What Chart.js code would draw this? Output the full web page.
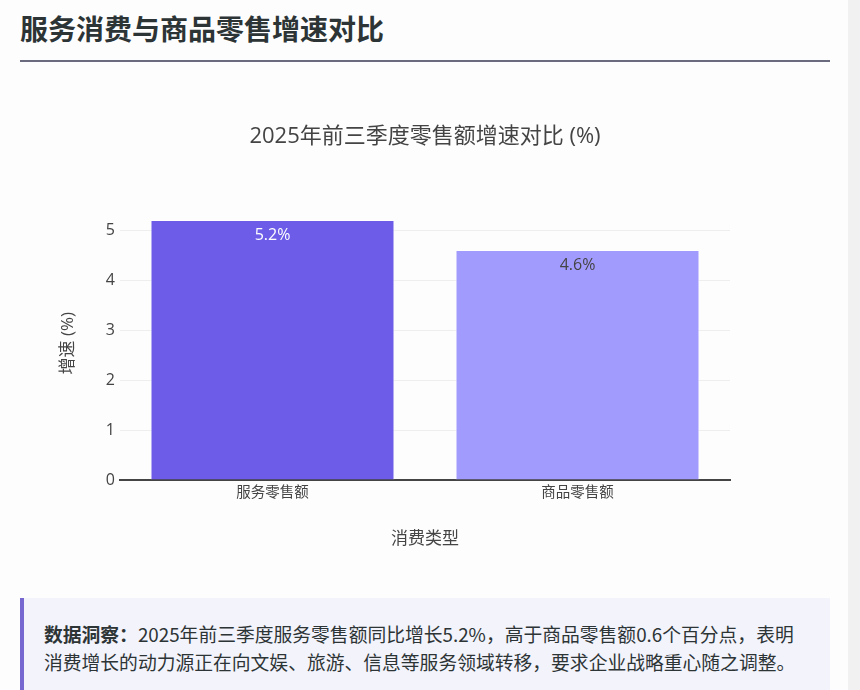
<!DOCTYPE html>
<html><head><meta charset="utf-8">
<script src="https://cdn.jsdelivr.net/npm/chart.js@4"></script>
<style>
html,body{margin:0;padding:0;background:#fdfdfd;width:860px;height:690px;overflow:hidden;font-family:"Open Sans","Noto Sans CJK SC",sans-serif;}
#h{position:absolute;left:20px;top:10px;font-size:28px;font-weight:bold;color:#2d3436;font-family:"Noto Sans CJK SC",sans-serif;margin:0;line-height:36px;}
#rule{position:absolute;left:20px;top:60px;width:810px;height:2px;background:#6b6b80;}
#wrap{position:absolute;left:20px;top:100px;width:810px;height:470px;}
#box{position:absolute;left:20px;top:598px;width:810px;height:110px;background:#f3f3fb;border-left:4px solid #7566d0;box-sizing:border-box;padding:22px 24px 0 20px;font-size:18.8px;line-height:28px;color:#2d3436;font-family:"Noto Sans CJK SC",sans-serif;}
#box b{font-weight:bold;}
#sb{position:absolute;left:848px;top:0;width:12px;height:690px;background:#f1f1f1;}
</style></head>
<body>
<h1 id="h">服务消费与商品零售增速对比</h1>
<div id="rule"></div>
<div id="wrap"><canvas id="c" width="810" height="470"></canvas></div>
<div id="box"><b>数据洞察：</b>2025年前三季度服务零售额同比增长5.2%，高于商品零售额0.6个百分点，表明消费增长的动力源正在向文娱、旅游、信息等服务领域转移，要求企业战略重心随之调整。</div>
<div id="sb"></div>
<script>
const categories = ["服务零售额", "商品零售额"];
const growthValues = [5.2, 4.6];
const valueLabels = ["5.2%", "4.6%"];
const yTickValues = [0, 1, 2, 3, 4, 5];
const barColors = ["#6c5ce7", "#a29bfe"];
const labelColors = ["#ffffff", "#444444"];

const FONT = '"Open Sans","Noto Sans CJK SC",sans-serif';

const barLabelPlugin = {
  id: 'barLabels',
  afterDatasetsDraw(chart) {
    const ctx = chart.ctx;
    const meta = chart.getDatasetMeta(0);
    ctx.save();
    ctx.font = '16px ' + FONT;
    ctx.textAlign = 'center';
    ctx.textBaseline = 'middle';
    meta.data.forEach((bar, i) => {
      ctx.fillStyle = labelColors[i];
      ctx.fillText(valueLabels[i], bar.x, bar.y + 15);
    });
    ctx.restore();
  }
};

new Chart(document.getElementById('c'), {
  type: 'bar',
  data: {
    labels: categories,
    datasets: [{
      data: growthValues,
      backgroundColor: barColors,
      borderColor: 'rgba(255,255,255,0.7)',
      borderWidth: 1,
      barPercentage: 0.8,
      categoryPercentage: 1.0,
      yAxisID: 'y'
    }]
  },
  options: {
    responsive: false,
    animation: false,
    devicePixelRatio: 1,
    layout: { padding: { left: 38, right: 38, top: 0, bottom: 21 } },
    plugins: {
      legend: { display: false },
      tooltip: { enabled: false },
      title: {
        display: true,
        text: '2025年前三季度零售额增速对比 (%)',
        color: '#444',
        font: { size: 22, family: FONT, weight: 'normal' },
        padding: { top: 24, bottom: 56 }
      }
    },
    scales: {
      x: {
        grid: { display: false, drawTicks: false },
        border: { display: true, color: '#444', width: 2 },
        ticks: { color: '#444', font: { size: 14.5, family: FONT }, padding: 4 },
        title: { display: true, text: '消费类型', color: '#444', font: { size: 17, family: FONT }, padding: 0 },
        afterFit(s) { s.height = 69; }
      },
      y: {
        min: 0,
        max: 5.474,
        grid: { color: '#eeeeee', lineWidth: 1, drawTicks: false },
        border: { display: false },
        ticks: { stepSize: 1, color: '#444', font: { size: 16, family: FONT }, padding: 5 },
        afterBuildTicks(s) { s.ticks = yTickValues.map(v => ({ value: v })); },
        title: { display: true, text: '增速 (%)', color: '#444', font: { size: 17, family: FONT }, padding: 0 },
        afterFit(s) { s.width = 62; }
      },
      yRight: {
        position: 'right',
        min: 0,
        max: 5.474,
        grid: { display: false, drawTicks: false },
        border: { display: false },
        ticks: { display: false },
        afterFit(s) { s.width = 62; }
      }
    }
  },
  plugins: [barLabelPlugin]
});
</script>
</body></html>
